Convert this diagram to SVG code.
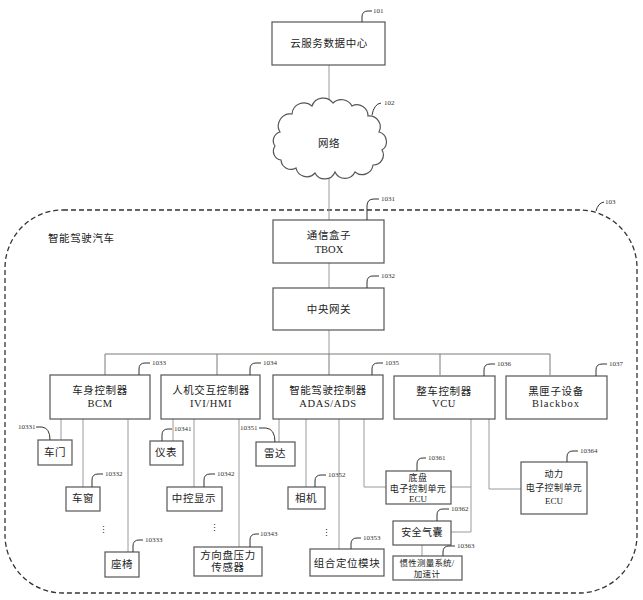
<svg xmlns="http://www.w3.org/2000/svg" width="643" height="600" viewBox="0 0 643 600">
  <style>
    .box { fill: #ffffff; stroke: #555555; stroke-width: 1.2; }
    .wire { fill: none; stroke: #9a9a9a; stroke-width: 1; }
    .bus { fill: none; stroke: #7a7a7a; stroke-width: 1; }
    .lead { fill: none; stroke: #333333; stroke-width: 1; }
    .t { font-family: "Liberation Serif", "Noto Sans CJK SC", serif; font-size: 10.5px; fill: #222222; text-anchor: middle; letter-spacing: 0.6px; }
    .ts { font-family: "Liberation Serif", "Noto Sans CJK SC", serif; font-size: 9px; fill: #222222; text-anchor: middle; letter-spacing: 0.4px; }
    .n { font-family: "Liberation Serif", serif; font-size: 7px; fill: #333333; }
  </style>

  <rect width="643" height="600" fill="#ffffff"/>

  <!-- vehicle boundary -->
  <g id="vehicle">
    <rect x="5" y="210" width="632" height="383" rx="58" ry="58" fill="none" stroke="#333333" stroke-width="1.3" stroke-dasharray="5 3"/>
    <text x="48" y="242" class="t" style="text-anchor:start">智能驾驶汽车</text>
    <path class="lead" d="M596 211 Q598 203 604 202"/>
    <text x="605" y="204" class="n">103</text>
  </g>

  <!-- connectors -->
  <g id="connectors">
    <path class="wire" d="M329 65 V103 M329 173 V220 M329 263 V288 M329 330 V354"/>
    <path class="bus" d="M105 375 V354 H550 V375 M217 354 V375 M329 354 V375 M440 354 V375"/>
    <!-- BCM branches -->
    <path class="wire" d="M61 419 V440 M83 419 V487 M128 419 V552"/>
    <!-- IVI/HMI branches -->
    <path class="wire" d="M173 419 V441 M194 419 V487 M239 419 V547"/>
    <!-- ADAS/ADS branches -->
    <path class="wire" d="M279 419 V442 M306 419 V487 M339 419 V549 M364 419 V487 H386"/>
    <!-- VCU branches -->
    <path class="wire" d="M471 419 V532 H451 M451 487 H471 M489 419 V489 H521"/>
    <path class="wire" d="M422 545 V556"/>
  </g>

  <g id="n101">
    <rect class="box" x="272" y="22" width="113" height="43"/>
    <text x="329" y="47" class="t">云服务数据中心</text>
    <path class="lead" d="M362 22 V17 Q362 11 368 11 H372"/>
    <text x="373" y="13" class="n">101</text>
  </g>

  <g id="n102">
    <path d="M280 132 A12 12 0 0 1 292 114 A12 12 0 0 1 312 106 A12 12 0 0 1 333 103 A12 12 0 0 1 352 106 A11 11 0 0 1 368 116 A11 11 0 0 1 379 132 A10 10 0 0 1 382 150 A10 10 0 0 1 373 165 A11 11 0 0 1 355 172 A11 11 0 0 1 335 172 A11 11 0 0 1 315 173 A11 11 0 0 1 296 168 A10 10 0 0 1 281 160 A9 9 0 0 1 275 146 A9 9 0 0 1 280 132 Z" fill="#ffffff" stroke="#555555" stroke-width="1.2"/>
    <text x="329" y="147" class="t">网络</text>
    <path class="lead" d="M372 115 Q374 104 381 103"/>
    <text x="384" y="105" class="n">102</text>
  </g>

  <g id="n1031">
    <rect class="box" x="273" y="220" width="111" height="43"/>
    <text x="329" y="239" class="t">通信盒子</text>
    <text x="329" y="253" class="t" style="letter-spacing:0">TBOX</text>
    <path class="lead" d="M367 220 V206 Q367 199 374 199 H379"/>
    <text x="381" y="201" class="n">1031</text>
  </g>

  <g id="n1032">
    <rect class="box" x="273" y="288" width="111" height="42"/>
    <text x="329" y="313" class="t">中央网关</text>
    <path class="lead" d="M367 288 V282 Q367 276 373 276 H379"/>
    <text x="381" y="278" class="n">1032</text>
  </g>

  <g id="n1033">
    <rect class="box" x="50" y="375" width="100" height="44"/>
    <text x="100" y="394" class="t">车身控制器</text>
    <text x="100" y="407" class="t">BCM</text>
    <path class="lead" d="M139 375 V369 Q139 363 145 363 H150"/>
    <text x="152" y="365" class="n">1033</text>
  </g>

  <g id="n1034">
    <rect class="box" x="161" y="375" width="99" height="44"/>
    <text x="211" y="394" class="t">人机交互控制器</text>
    <text x="211" y="407" class="t">IVI/HMI</text>
    <path class="lead" d="M250 375 V369 Q250 363 256 363 H261"/>
    <text x="263" y="365" class="n">1034</text>
  </g>

  <g id="n1035">
    <rect class="box" x="273" y="375" width="110" height="44"/>
    <text x="328" y="394" class="t">智能驾驶控制器</text>
    <text x="328" y="407" class="t">ADAS/ADS</text>
    <path class="lead" d="M372 375 V369 Q372 363 378 363 H383"/>
    <text x="385" y="365" class="n">1035</text>
  </g>

  <g id="n1036">
    <rect class="box" x="394" y="376" width="101" height="43"/>
    <text x="444" y="395" class="t">整车控制器</text>
    <text x="444" y="407" class="t">VCU</text>
    <path class="lead" d="M484 376 V370 Q484 364 490 364 H495"/>
    <text x="497" y="366" class="n">1036</text>
  </g>

  <g id="n1037">
    <rect class="box" x="506" y="376" width="101" height="43"/>
    <text x="556" y="395" class="t">黑匣子设备</text>
    <text x="556" y="407" class="t" style="letter-spacing:1px">Blackbox</text>
    <path class="lead" d="M596 376 V370 Q596 364 602 364 H607"/>
    <text x="609" y="366" class="n">1037</text>
  </g>

  <g id="n10331">
    <rect class="box" x="38" y="440" width="34" height="25"/>
    <text x="55" y="456" class="t">车门</text>
    <path class="lead" d="M36 427 H42 Q50 428 50 440"/>
    <text x="18" y="429" class="n">10331</text>
  </g>

  <g id="n10332">
    <rect class="box" x="66" y="487" width="34" height="24"/>
    <text x="83" y="502" class="t">车窗</text>
    <path class="lead" d="M92 487 V480 Q92 474 98 474 H103"/>
    <text x="105" y="476" class="n">10332</text>
    <text x="104" y="533" class="ts">⋮</text>
  </g>

  <g id="n10333">
    <rect class="box" x="105" y="552" width="34" height="25"/>
    <text x="122" y="568" class="t">座椅</text>
    <path class="lead" d="M133 552 V546 Q133 540 139 540 H143"/>
    <text x="145" y="542" class="n">10333</text>
  </g>

  <g id="n10341">
    <rect class="box" x="150" y="441" width="33" height="24"/>
    <text x="166" y="456" class="t">仪表</text>
    <path class="lead" d="M162 441 V435 Q162 429 168 429 H172"/>
    <text x="174" y="431" class="n">10341</text>
  </g>

  <g id="n10342">
    <rect class="box" x="167" y="487" width="55" height="24"/>
    <text x="194" y="502" class="t">中控显示</text>
    <path class="lead" d="M204 487 V480 Q204 474 210 474 H215"/>
    <text x="217" y="476" class="n">10342</text>
    <text x="215" y="531" class="ts">⋮</text>
  </g>

  <g id="n10343">
    <rect class="box" x="194" y="547" width="68" height="29"/>
    <text x="228" y="559" class="t">方向盘压力</text>
    <text x="228" y="571" class="t">传感器</text>
    <path class="lead" d="M250 547 V540 Q250 534 256 534 H259"/>
    <text x="260" y="536" class="n">10343</text>
  </g>

  <g id="n10351">
    <rect class="box" x="256" y="442" width="39" height="24"/>
    <text x="275" y="457" class="t">雷达</text>
    <path class="lead" d="M259 428 H266 Q275 429 275 442"/>
    <text x="240" y="430" class="n">10351</text>
  </g>

  <g id="n10352">
    <rect class="box" x="288" y="487" width="37" height="22"/>
    <text x="306" y="502" class="t">相机</text>
    <path class="lead" d="M315 487 V481 Q315 475 321 475 H326"/>
    <text x="328" y="477" class="n">10352</text>
    <text x="327" y="536" class="ts">⋮</text>
  </g>

  <g id="n10353">
    <rect class="box" x="310" y="549" width="74" height="27"/>
    <text x="347" y="567" class="t">组合定位模块</text>
    <path class="lead" d="M351 549 V544 Q351 538 357 538 H361"/>
    <text x="363" y="540" class="n">10353</text>
  </g>

  <g id="n10361">
    <rect class="box" x="386" y="471" width="65" height="33"/>
    <text x="418" y="481" class="ts">底盘</text>
    <text x="418" y="492" class="ts">电子控制单元</text>
    <text x="418" y="502" class="ts" style="letter-spacing:0">ECU</text>
    <path class="lead" d="M417 471 V464 Q417 458 423 458 H426"/>
    <text x="428" y="460" class="n">10361</text>
  </g>

  <g id="n10362">
    <rect class="box" x="393" y="521" width="58" height="24"/>
    <text x="422" y="536" class="ts" style="font-size:10px">安全气囊</text>
    <path class="lead" d="M437 521 V515 Q437 509 443 509 H449"/>
    <text x="451" y="511" class="n">10362</text>
  </g>

  <g id="n10363">
    <rect class="box" x="393" y="556" width="69" height="24"/>
    <text x="427" y="566" class="ts" style="font-size:8.5px;letter-spacing:0.2px">惯性测量系统/</text>
    <text x="427" y="577" class="ts" style="font-size:8.5px">加速计</text>
    <path class="lead" d="M443 556 V552 Q443 546 449 546 H455"/>
    <text x="457" y="548" class="n">10363</text>
  </g>

  <g id="n10364">
    <rect class="box" x="521" y="462" width="66" height="52"/>
    <text x="554" y="477" class="ts">动力</text>
    <text x="554" y="491" class="ts">电子控制单元</text>
    <text x="554" y="504" class="ts" style="letter-spacing:0">ECU</text>
    <path class="lead" d="M567 462 V457 Q567 451 573 451 H578"/>
    <text x="580" y="453" class="n">10364</text>
  </g>
</svg>
